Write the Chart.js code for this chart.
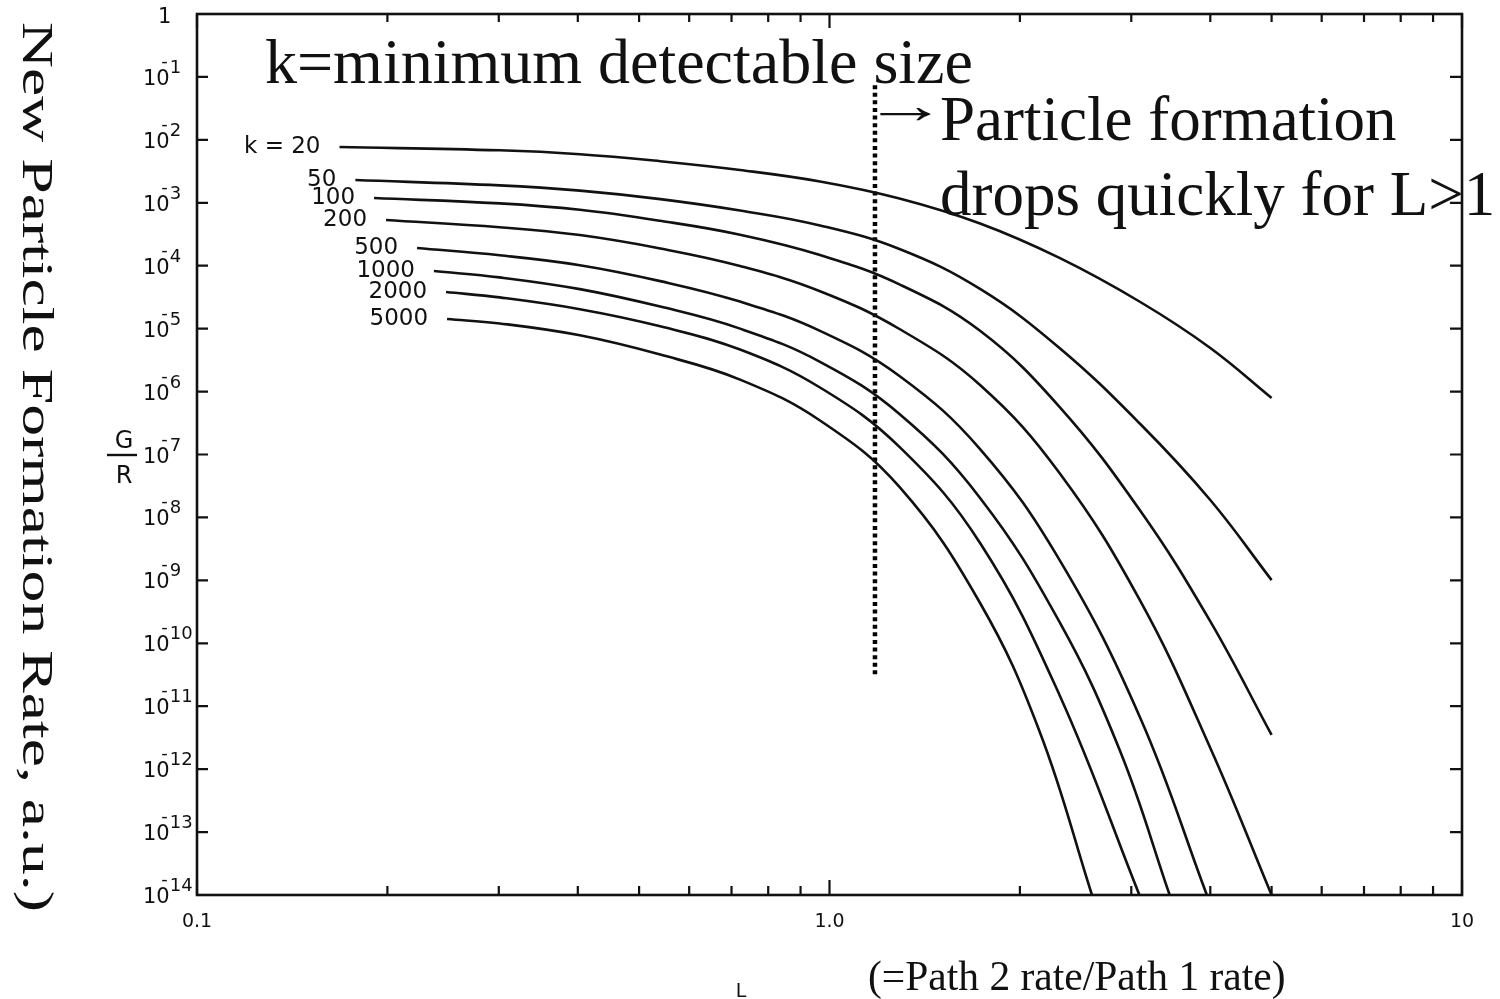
<!DOCTYPE html>
<html>
<head>
<meta charset="utf-8">
<title>G/R versus L</title>
<script src="https://cdn.jsdelivr.net/npm/chart.js@4.4.1/dist/chart.umd.min.js"></script>
<style>
  html, body { margin: 0; padding: 0; background: #fff; }
  #wrap { position: relative; width: 1500px; height: 999px; }
</style>
</head>
<body>
<div id="wrap"><canvas id="chart"></canvas></div>
<script>
// ---- data: L (= path 2 rate / path 1 rate) and G/R for each minimum detectable size k ----
const kLabels = ['k = 20', '50', '100', '200', '500', '1000', '2000', '5000'];

const L_k20   = [0.168, 0.301, 0.403, 0.540, 0.722, 0.966, 1.29, 1.73, 2.31, 3.10, 4.00, 5.0];
const G_k20   = [7.7e-3, 6.82e-3, 5.92e-3, 4.58e-3, 3.32e-3, 2.18e-3, 1.17e-3, 4.69e-4, 1.33e-4, 2.65e-5, 4.93e-6, 7.91e-7];

const L_k50   = [0.178, 0.301, 0.403, 0.540, 0.722, 0.966, 1.29, 1.73, 2.31, 3.10, 4.00, 5.0];
const G_k50   = [2.3e-3, 1.89e-3, 1.56e-3, 1.145e-3, 7.54e-4, 4.36e-4, 1.84e-4, 4.27e-5, 4.93e-6, 3.05e-7, 1.89e-8, 1.01e-9];

const L_k100  = [0.1905, 0.301, 0.403, 0.540, 0.722, 0.966, 1.29, 1.73, 2.31, 3.10, 4.00, 5.0];
const G_k100  = [1.19e-3, 9.78e-4, 7.74e-4, 5.17e-4, 3.11e-4, 1.48e-4, 5.05e-5, 9.24e-6, 5.73e-7, 1.275e-8, 2.23e-10, 3.49e-12];

const L_k200  = [0.199, 0.301, 0.403, 0.540, 0.722, 0.966, 1.29, 1.73, 2.31, 3.10, 4.00, 5.0];
const G_k200  = [5.33e-4, 4.09e-4, 3.07e-4, 1.88e-4, 9.9e-5, 3.94e-5, 9.87e-6, 1.27e-6, 5.08e-8, 4.7e-10, 2.17e-12, 1e-14];

const L_k500  = [0.2228, 0.301, 0.403, 0.540, 0.722, 0.966, 1.29, 1.73, 2.31, 3.10, 3.95];
const G_k500  = [1.91e-4, 1.464e-4, 1.019e-4, 5.69e-5, 2.69e-5, 9.21e-6, 1.77e-6, 1.22e-7, 2.11e-9, 6.5e-12, 1e-14];

const L_k1000 = [0.2369, 0.301, 0.403, 0.540, 0.722, 0.966, 1.29, 1.73, 2.31, 2.88, 3.45];
const G_k1000 = [8.24e-5, 6.52e-5, 4.25e-5, 2.24e-5, 1.0e-5, 2.97e-6, 4.4e-7, 2.04e-8, 2.18e-10, 1.94e-12, 1e-14];

const L_k2000 = [0.2476, 0.301, 0.403, 0.540, 0.722, 0.966, 1.29, 1.73, 2.31, 3.09];
const G_k2000 = [3.82e-5, 3.14e-5, 2.04e-5, 1.09e-5, 4.65e-6, 1.16e-6, 1.32e-7, 3.92e-9, 1.51e-11, 1e-14];

const L_k5000 = [0.2485, 0.301, 0.403, 0.540, 0.722, 0.966, 1.29, 1.73, 2.15, 2.60];
const G_k5000 = [1.42e-5, 1.21e-5, 7.84e-6, 3.87e-6, 1.55e-6, 3.47e-7, 3.05e-8, 4.37e-10, 3.9e-12, 1e-14];

// vertical dotted marker at L = 1.18
const markerL = 1.18;
const markerRange = [7.4e-2, 2.8e-11];

// axis ticks
const xTickValues = [0.1, 0.2, 0.3, 0.4, 0.5, 0.6, 0.7, 0.8, 0.9, 1, 2, 3, 4, 5, 6, 7, 8, 9, 10];
const xLabelValues = [0.1, 1, 10];
const xLabelTexts = ['0.1', '1.0', '10'];
const yTickExponents = [0, -1, -2, -3, -4, -5, -6, -7, -8, -9, -10, -11, -12, -13, -14];

// text
const yTitle = 'New Particle Formation Rate, a.u.)';
const xTitle = 'L';
const xNote = '(=Path 2 rate/Path 1 rate)';
const noteLine1 = 'k=minimum detectable size';
const noteArrow = '\u2192';
const noteLine2 = 'Particle formation';
const noteLine3 = 'drops quickly for L>1';

// ---- drawing ----
const SERIF = '"Liberation Serif", "Times New Roman", serif';
const SANS = '"DejaVu Sans", "Liberation Sans", sans-serif';
const INK = '#111';

const curves = [
  [L_k20, G_k20], [L_k50, G_k50], [L_k100, G_k100], [L_k200, G_k200],
  [L_k500, G_k500], [L_k1000, G_k1000], [L_k2000, G_k2000], [L_k5000, G_k5000]
];

const datasets = curves.map(([Ls, Gs], i) => ({
  label: kLabels[i],
  data: Ls.map((l, j) => ({ x: l, y: Gs[j] })),
  borderColor: INK,
  borderWidth: 2.6,
  pointRadius: 0,
  tension: 0.4,
  fill: false
}));

datasets.push({
  label: 'marker',
  data: [{ x: markerL, y: markerRange[0] }, { x: markerL, y: markerRange[1] }],
  borderColor: '#000',
  borderWidth: 4.5,
  borderDash: [4, 3.6],
  borderCapStyle: 'butt',
  pointRadius: 0,
  tension: 0,
  fill: false
});

const isDecade = v => Math.abs(Math.log10(v) - Math.round(Math.log10(v))) < 1e-9;

const decorations = {
  id: 'decorations',
  afterDatasetsDraw(chart) {
    const { ctx, chartArea: a, scales: { x, y } } = chart;
    ctx.save();
    ctx.strokeStyle = INK;
    ctx.fillStyle = INK;

    // frame
    ctx.lineWidth = 2.6;
    ctx.strokeRect(a.left, a.top, a.right - a.left, a.bottom - a.top);

    // inward tick marks on all four sides
    ctx.lineWidth = 2.2;
    ctx.beginPath();
    y.ticks.forEach(t => {
      const py = y.getPixelForValue(t.value);
      ctx.moveTo(a.left, py); ctx.lineTo(a.left + 11, py);
      ctx.moveTo(a.right, py); ctx.lineTo(a.right - 12, py);
    });
    x.ticks.forEach(t => {
      const px = x.getPixelForValue(t.value);
      const len = isDecade(t.value) ? 15 : 9;
      ctx.moveTo(px, a.bottom); ctx.lineTo(px, a.bottom - len);
      ctx.moveTo(px, a.top); ctx.lineTo(px, a.top + len - 1);
    });
    ctx.stroke();

    // y tick labels: 10 with a raised exponent
    ctx.textAlign = 'left';
    ctx.textBaseline = 'alphabetic';
    y.ticks.forEach((t, i) => {
      const py = y.getPixelForValue(t.value);
      const e = yTickExponents[i];
      if (e === 0) {
        ctx.font = `21px ${SANS}`;
        ctx.fillText('1', 158, py + 9);
        return;
      }
      const x0 = 143;
      ctx.font = `21px ${SANS}`;
      ctx.fillText('10', x0, py + 8);
      const w10 = ctx.measureText('10').width;
      ctx.font = `18px ${SANS}`;
      const wm = ctx.measureText('-').width;
      ctx.fillText('-', x0 + w10 - wm - 2, py - 10);
      ctx.fillText(String(-e), x0 + w10, py - 4);
    });

    // G/R fraction beside the y axis
    ctx.font = `24px ${SANS}`;
    ctx.textAlign = 'center';
    ctx.fillText('G', 124, 448);
    ctx.fillText('R', 124, 483);
    ctx.lineWidth = 2.4;
    ctx.beginPath(); ctx.moveTo(107, 455); ctx.lineTo(137, 455); ctx.stroke();

    // curve labels placed just left of each curve's start
    ctx.font = `23px ${SANS}`;
    ctx.textAlign = 'right';
    datasets.slice(0, kLabels.length).forEach((ds, i) => {
      const p = ds.data[0];
      const px = x.getPixelForValue(p.x);
      const py = y.getPixelForValue(p.y);
      ctx.fillText(kLabels[i], px - 19, py + 6);
    });

    // annotation text
    ctx.textAlign = 'left';
    ctx.font = `64px ${SERIF}`;
    ctx.fillText(noteLine1, 265, 83);
    ctx.font = `63px ${SERIF}`;
    ctx.fillText(noteLine2, 940, 140);
    ctx.fillText(noteLine3, 940, 215);

    // arrow glyph sized to its visible ink
    ctx.font = `52px ${SERIF}`;
    const am = ctx.measureText(noteArrow);
    const inkW = (am.actualBoundingBoxLeft || 0) + (am.actualBoundingBoxRight || am.width);
    const sx = 52 / inkW;
    ctx.save();
    ctx.translate(879 + (am.actualBoundingBoxLeft || 0) * sx, 123);
    ctx.scale(sx, 1);
    ctx.fillText(noteArrow, 0, 0);
    ctx.restore();

    // axis titles
    ctx.font = `19px ${SANS}`;
    ctx.textAlign = 'center';
    ctx.fillText(xTitle, 741, 997);
    ctx.font = `41.5px ${SERIF}`;
    ctx.textAlign = 'left';
    ctx.fillText(xNote, 868, 990);

    // rotated y title, reading top to bottom, stretched along its length
    ctx.font = `45px ${SERIF}`;
    const tw = ctx.measureText(yTitle).width;
    ctx.save();
    ctx.translate(23, 22);
    ctx.rotate(Math.PI / 2);
    ctx.scale(890 / tw, 1);
    ctx.fillText(yTitle, 0, 0);
    ctx.restore();

    ctx.restore();
  }
};

new Chart(document.getElementById('chart'), {
  type: 'line',
  data: { datasets },
  options: {
    responsive: true,
    maintainAspectRatio: false,
    animation: false,
    layout: { padding: { left: 0, right: 38, top: 14, bottom: 0 } },
    plugins: { legend: { display: false }, tooltip: { enabled: false } },
    scales: {
      x: {
        type: 'logarithmic',
        min: 0.1,
        max: 10,
        grid: { display: false, drawTicks: false },
        border: { display: false },
        afterBuildTicks: s => { s.ticks = xTickValues.map(v => ({ value: v, major: isDecade(v) })); },
        afterFit: s => { s.height = 104; },
        ticks: {
          autoSkip: false,
          maxRotation: 0,
          minRotation: 0,
          padding: 16,
          color: INK,
          font: { family: SANS, size: 19 },
          callback: v => {
            const i = xLabelValues.findIndex(u => Math.abs(u - v) < 1e-9);
            return i >= 0 ? xLabelTexts[i] : '';
          }
        }
      },
      y: {
        type: 'logarithmic',
        min: 1e-14,
        max: 1,
        grid: { display: false, drawTicks: false },
        border: { display: false },
        afterBuildTicks: s => { s.ticks = yTickExponents.map(e => ({ value: Math.pow(10, e), major: true })); },
        afterFit: s => { s.width = 197; },
        ticks: { display: false }
      }
    }
  },
  plugins: [decorations]
});
</script>
</body>
</html>
